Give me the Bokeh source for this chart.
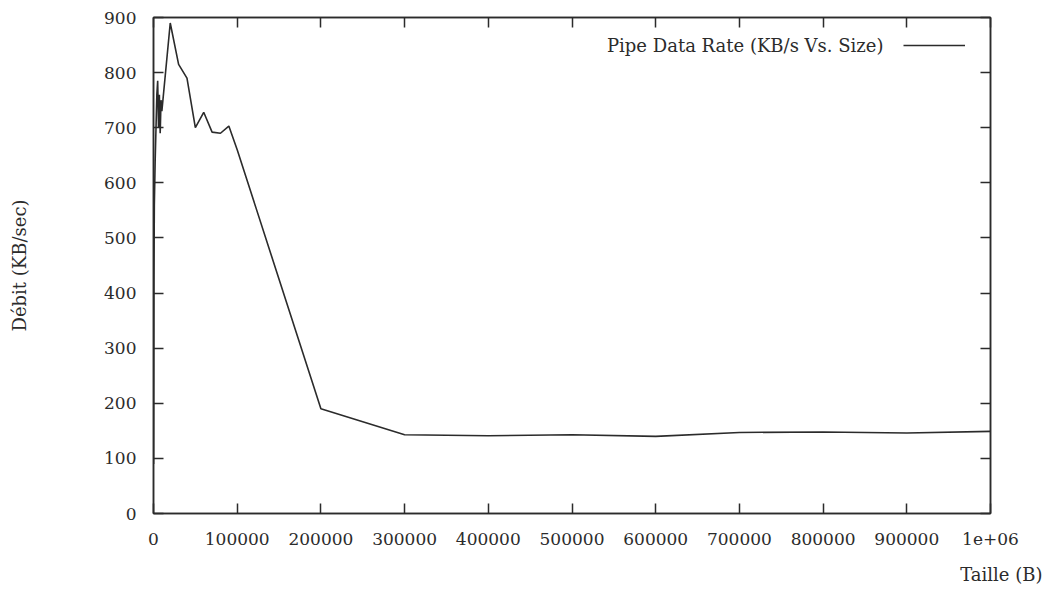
from bokeh.plotting import figure
from bokeh.models import (Range1d, LinearAxis, FixedTicker, Label, Legend, LegendItem, Title)
from bokeh.embed import file_html
from bokeh.resources import INLINE

# ---- data ----
sizes = [100, 500, 1000, 2000, 3000, 4000, 5000, 6000, 7000, 8000, 9000, 10000,
         20000, 30000, 40000, 50000, 60000, 70000, 80000, 90000, 100000,
         200000, 300000, 400000, 500000, 600000, 700000, 800000, 900000, 1000000]
rates = [90, 420, 560, 640, 700, 760, 785, 700, 760, 690, 750, 730,
         890, 815, 790, 700, 728, 692, 690, 703, 660,
         190, 143, 141, 143, 140, 147, 148, 146, 149]

x_ticks = [0, 100000, 200000, 300000, 400000, 500000, 600000, 700000, 800000, 900000, 1000000]
x_tick_labels = ["0", "100000", "200000", "300000", "400000", "500000", "600000",
                 "700000", "800000", "900000", "1e+06"]
y_ticks = [0, 100, 200, 300, 400, 500, 600, 700, 800, 900]

series_name = "Pipe Data Rate (KB/s Vs. Size)"
x_title = "Taille (B)"
y_title = "Débit (KB/sec)"

FONT = "DejaVu Serif"
FS = "17px"
FS_T = "18px"
INK = "#2b2b2b"

p = figure(width=1045, height=600, output_backend="svg", toolbar_location=None,
           x_range=Range1d(0, 1000000), y_range=Range1d(0, 900),
           min_border_left=153, min_border_right=55, min_border_top=17, min_border_bottom=87)
p.background_fill_color = "white"
p.border_fill_color = "white"
p.outline_line_color = INK
p.outline_line_width = 1.5
p.xgrid.visible = False
p.ygrid.visible = False

def style_axis(ax, labels=True, standoff=17):
    ax.axis_line_color = INK
    ax.axis_line_width = 1.5
    ax.major_tick_in = 10
    ax.major_tick_out = 0
    ax.major_tick_line_color = INK
    ax.major_tick_line_width = 1.5
    ax.minor_tick_line_color = None
    ax.major_label_text_font = FONT
    ax.major_label_text_font_size = FS if labels else "0px"
    ax.major_label_text_color = INK if labels else None
    ax.major_label_standoff = standoff if labels else 0

xa = p.xaxis[0]
xa.ticker = FixedTicker(ticks=x_ticks)
xa.major_label_overrides = dict(zip(x_ticks, x_tick_labels))
style_axis(xa, standoff=19)

ya = p.yaxis[0]
ya.ticker = FixedTicker(ticks=y_ticks)
style_axis(ya, standoff=17)
ya.axis_label = y_title
ya.axis_label_text_font = FONT
ya.axis_label_text_font_size = FS_T
ya.axis_label_text_font_style = "normal"
ya.axis_label_text_color = INK
ya.axis_label_standoff = 71

top = LinearAxis(ticker=FixedTicker(ticks=x_ticks))
style_axis(top, labels=False)
p.add_layout(top, "above")
right = LinearAxis(ticker=FixedTicker(ticks=y_ticks))
style_axis(right, labels=False)
p.add_layout(right, "right")

r = p.line(sizes, rates, line_color=INK, line_width=1.6)

# legend: text on the left, sample line on the right (gnuplot style)
p.add_layout(Label(x=872200, y=849, text=series_name, text_font=FONT, text_font_size=FS_T,
                   text_color=INK, text_align="right", text_baseline="middle"))
leg = Legend(items=[LegendItem(label=" ", renderers=[r])], location=(750, 458),
             glyph_width=62, glyph_height=20, label_width=0, label_height=20,
             label_standoff=0, padding=0, margin=0, spacing=0,
             label_text_font_size="1px", border_line_color=None,
             background_fill_alpha=0)
p.add_layout(leg, "center")

p.add_layout(Title(text=x_title, align="right", offset=-52, text_font=FONT,
                   text_font_size=FS_T, text_font_style="normal", text_color=INK,
                   standoff=29), "below")

open("out.html", "w").write(file_html(p, INLINE))
